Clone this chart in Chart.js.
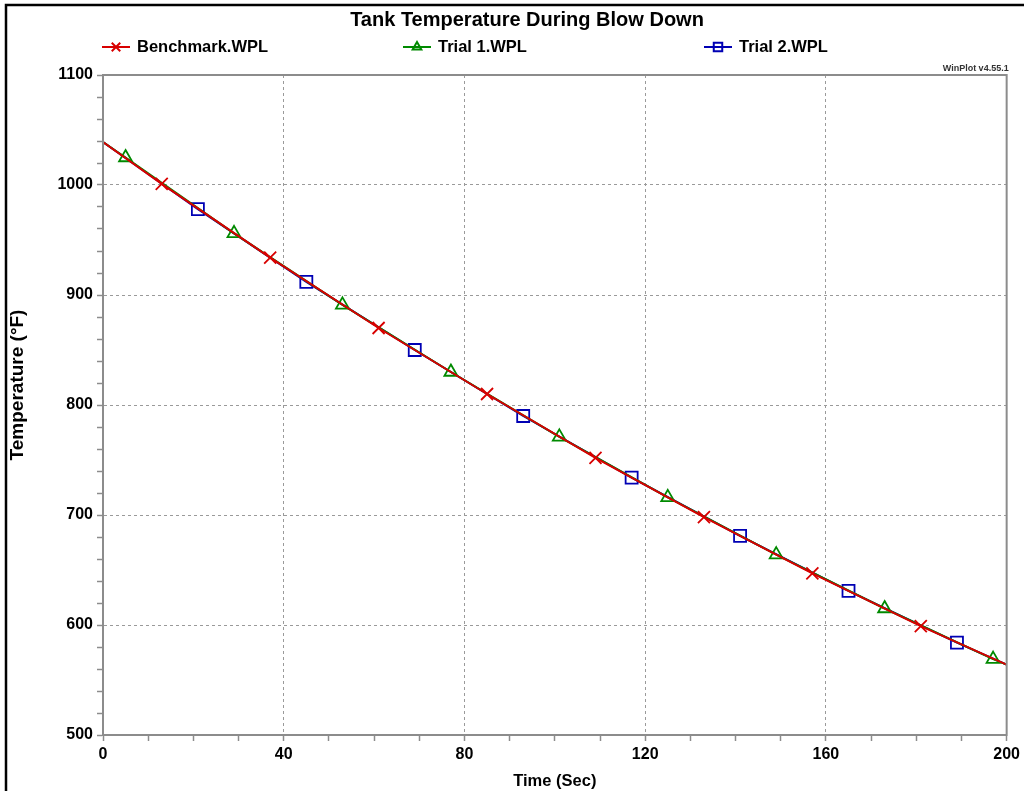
<!DOCTYPE html>
<html>
<head>
<meta charset="utf-8">
<title>Tank Temperature During Blow Down</title>
<script src="https://cdn.jsdelivr.net/npm/chart.js@4.4.1/dist/chart.umd.min.js"></script>
<style>
  html, body { margin: 0; padding: 0; background: #fff; }
  #wrap { width: 1024px; height: 791px; position: relative; }
</style>
</head>
<body>
<div id="wrap"><canvas id="tankChart"></canvas></div>
<script>
// values
const benchTime = [0, 13, 37, 61, 85, 109, 133, 157, 181, 200];
const benchTemp = [1039, 1001, 934, 870, 810, 752, 698, 647, 599, 564];
const trial1Time = [0, 5, 29, 53, 77, 101, 125, 149, 173, 197, 200];
const trial1Temp = [1039, 1025, 956, 891, 830, 771, 716, 664, 615, 569, 564];
const trial2Time = [0, 21, 45, 69, 93, 117, 141, 165, 189, 200];
const trial2Temp = [1039, 978, 912, 850, 790, 734, 681, 631, 584, 564];

const xTickLabels = [0, 40, 80, 120, 160, 200];
const yTickLabels = [500, 600, 700, 800, 900, 1000, 1100];

const seriesNames = ['Benchmark.WPL', 'Trial 1.WPL', 'Trial 2.WPL'];
const seriesColors = ['#d80000', '#008a00', '#0000b4'];
const seriesStyles = ['crossRot', 'triangle', 'rect'];

const FONT = '"Liberation Sans", Arial, sans-serif';
Chart.defaults.font.family = FONT;
Chart.defaults.color = '#000';

function toPoints(xs, ys) {
    return xs.map((x, i) => ({ x: x, y: ys[i] }));
}

// markers only between the end points of each line
function markerRadius(xs, r) {
    return xs.map((x, i) => (i === 0 || i === xs.length - 1) ? 0 : r);
}

const gridColor = '#8c8c8c';

// title, legend row, watermark, y title and frames
const decorPlugin = {
    id: 'decor',
    beforeDraw(chart) {
        const ctx = chart.ctx;
        ctx.save();
        ctx.fillStyle = '#fff';
        ctx.fillRect(0, 0, chart.width, chart.height);
        ctx.restore();
    },
    afterDraw(chart) {
        const ctx = chart.ctx;
        const area = chart.chartArea;
        ctx.save();

        // plot frame
        ctx.strokeStyle = gridColor;
        ctx.lineWidth = 2;
        ctx.strokeRect(area.left, area.top, area.right - area.left, area.bottom - area.top);

        // outer black border (left and top only are in the picture)
        ctx.strokeStyle = '#000';
        ctx.lineWidth = 2.5;
        ctx.beginPath();
        ctx.moveTo(6, chart.height);
        ctx.lineTo(6, 5);
        ctx.lineTo(chart.width, 5);
        ctx.stroke();

        // title
        ctx.fillStyle = '#000';
        ctx.textAlign = 'center';
        ctx.textBaseline = 'middle';
        ctx.font = 'bold 20px ' + FONT;
        ctx.fillText('Tank Temperature During Blow Down', 527, 20);

        // y axis title
        ctx.save();
        ctx.translate(18, 385);
        ctx.rotate(-Math.PI / 2);
        ctx.font = 'bold 19px ' + FONT;
        ctx.fillText('Temperature (\u00B0F)', 0, 0);
        ctx.restore();

        // watermark
        ctx.font = 'bold 9px ' + FONT;
        ctx.fillStyle = '#333';
        ctx.textAlign = 'right';
        ctx.textBaseline = 'alphabetic';
        ctx.fillText('WinPlot v4.55.1', area.right + 2, area.top - 4);

        // legend
        const legY = 47;
        seriesNames.forEach((name, i) => {
            const x0 = area.left - 1 + i * 301;
            ctx.strokeStyle = seriesColors[i];
            ctx.fillStyle = 'rgba(0,0,0,0)';
            ctx.lineWidth = 2;
            ctx.beginPath();
            ctx.moveTo(x0, legY);
            ctx.lineTo(x0 + 28, legY);
            ctx.stroke();
            Chart.helpers.drawPoint(ctx, {
                pointStyle: seriesStyles[i],
                radius: i === 1 ? 5 : 6,
                borderWidth: 2,
                rotation: 0
            }, x0 + 14, legY);
            ctx.fillStyle = '#000';
            ctx.textAlign = 'left';
            ctx.textBaseline = 'middle';
            ctx.font = 'bold 16.5px ' + FONT;
            ctx.fillText(name, x0 + 35, legY);
        });
        ctx.restore();
    }
};

function lineSet(i, xs, ys, r) {
    return {
        label: seriesNames[i],
        data: toPoints(xs, ys),
        showLine: true,
        borderColor: seriesColors[i],
        backgroundColor: 'rgba(0,0,0,0)',
        borderWidth: 2,
        pointStyle: seriesStyles[i],
        pointRadius: markerRadius(xs, r),
        pointBorderWidth: 1.8,
        pointBorderColor: seriesColors[i],
        pointBackgroundColor: 'rgba(0,0,0,0)',
        tension: 0
    };
}

new Chart(document.getElementById('tankChart'), {
    type: 'scatter',
    data: {
        datasets: [
            lineSet(0, benchTime, benchTemp, 8.5),
            lineSet(1, trial1Time, trial1Temp, 7.5),
            lineSet(2, trial2Time, trial2Temp, 8.5)
        ]
    },
    plugins: [decorPlugin],
    options: {
        responsive: true,
        maintainAspectRatio: false,
        animation: false,
        events: [],
        layout: { padding: { top: 75, right: 17, bottom: 0, left: 0 } },
        plugins: {
            legend: { display: false },
            tooltip: { enabled: false }
        },
        scales: {
            x: {
                type: 'linear',
                min: 0,
                max: 200,
                afterFit(scale) { scale.height = 56; },
                ticks: {
                    stepSize: 10,
                    autoSkip: false,
                    maxRotation: 0,
                    padding: 4,
                    font: { size: 16, weight: 'bold' },
                    callback: (v) => xTickLabels.includes(v) ? String(v) : ''
                },
                grid: {
                    tickLength: 6,
                    tickColor: gridColor,
                    tickWidth: 1.5,
                    lineWidth: 1,
                    color: (c) => (c.tick && xTickLabels.includes(c.tick.value) && c.tick.value !== 0 && c.tick.value !== 200) ? '#9a9a9a' : 'rgba(0,0,0,0)'
                },
                border: { color: gridColor, width: 2, dash: [3, 3] },
                title: {
                    display: true,
                    text: 'Time (Sec)',
                    font: { size: 16.5, weight: 'bold' },
                    padding: { top: 0, bottom: 0 }
                }
            },
            y: {
                type: 'linear',
                min: 500,
                max: 1100,
                afterFit(scale) { scale.width = 103; },
                ticks: {
                    stepSize: 20,
                    autoSkip: false,
                    padding: 4,
                    font: { size: 16, weight: 'bold' },
                    callback: (v) => yTickLabels.includes(v) ? String(v) : ''
                },
                grid: {
                    tickLength: 6,
                    tickColor: gridColor,
                    tickWidth: 1.5,
                    lineWidth: 1,
                    color: (c) => (c.tick && yTickLabels.includes(c.tick.value) && c.tick.value !== 500 && c.tick.value !== 1100) ? '#9a9a9a' : 'rgba(0,0,0,0)'
                },
                border: { color: gridColor, width: 2, dash: [3, 3] }
            }
        }
    }
});
</script>
</body>
</html>
